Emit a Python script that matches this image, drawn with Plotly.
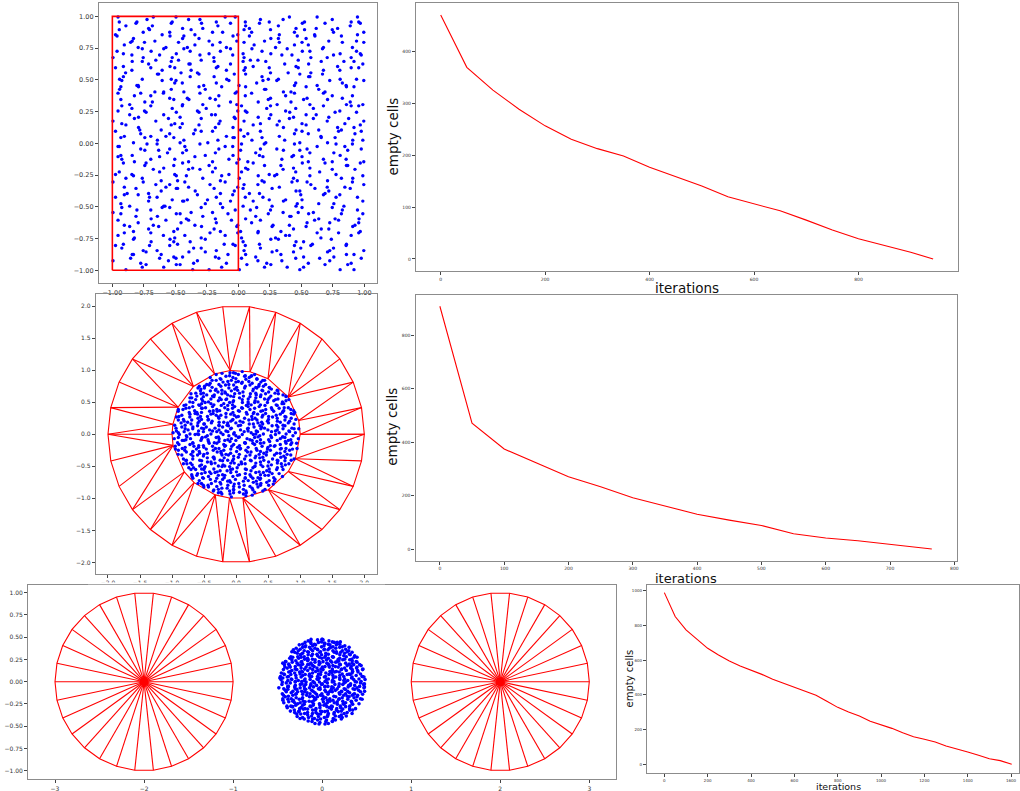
import math
import plotly.graph_objects as go

W, H = 1020, 791

# ---------------- line-chart data ----------------
iter_a = [0, 50, 100, 150, 200, 250, 300, 350, 400, 450, 500, 550, 600, 650, 700, 750, 800, 850, 900, 943]
empty_a = [471, 370, 326, 289, 257, 231, 213, 199, 177, 159, 141, 120, 106, 93, 75, 56, 39, 26, 13, 0]

iter_b = [0, 50, 100, 150, 200, 250, 300, 350, 400, 450, 500, 550, 600, 650, 700, 765]
empty_b = [908, 471, 374, 322, 270, 233, 192, 161, 130, 108, 88, 57, 41, 31, 17, 0]

iter_c = [0, 50, 100, 150, 200, 250, 300, 350, 400, 450, 500, 550, 600, 650, 700, 750, 800,
          850, 900, 950, 1000, 1050, 1100, 1150, 1200, 1250, 1300, 1350, 1400, 1450, 1500, 1550, 1603]
empty_c = [989, 851, 774, 720, 668, 630, 595, 566, 543, 518, 490, 467, 444, 421, 398, 363, 328,
           301, 278, 248, 228, 207, 182, 159, 144, 128, 105, 90, 71, 52, 32, 21, 0]

# ---------------- geometry of the meshes ----------------
rect_x = [-1, 0, 0, -1, -1]
rect_y = [-1, -1, 1, 1, -1]
ring_vertices = 30
annulus_outer_r = 2.0
annulus_inner_r = 1.0
# angles (degrees) of the inner-boundary nodes of the annulus mesh
annulus_inner_angles = [0, 12.4, 35.5, 60.2, 77.5, 95.3, 109.7, 131.8, 155, 171, 180, 190,
                        216, 229, 251, 264, 276.1, 300.2, 324.5, 337.6]
disk_centers = [-2.0, 2.0]
disk_radius = 1.0
cloud3_radius = 1.0
cloud5_radius = 0.5

# ---------------- point clouds ----------------
# each row is one horizontal band (top to bottom); '.' = empty, digit = a dot
# (the digit gives its position inside the cell, 1..9 in a 3x3 layout)
cloud_square = [
    "37.9.52..81.46..83.2.7.59..41.8.2.6..937",
    ".6.2.84..19..37.5.2.68.1..4.93..72.8.5.1",
    "81..63.9.4..27.6.5.93.4..18.6.2.7.34..96",
    "2.94..8.3.61.5.7..38.2.96.4..153..7.1.8.",
    ".63.71..8.29.4.6.17.3.5..92.6.14.8..2.73",
    "58..26.3.9.14..76.2.83.59..2.6.4.1.9..57",
    "4..16.92.58..37.4..169.7..3.28.5..41.6.2",
    ".83.25..91.64..38.5.2.7.1..49.6.3..82.15",
    "2.74..16.39.58..2.4.61..37.9.2.8.5..43.1",
    "95..8.31.7..42.6.9.13..58.7..264.1.9..83",
    ".2.97..3.614..8.5.2.7.63..1.94..8.2.57.3",
    "61.3..89.4.7.25..1.83..64.9.7.2.58..3.16",
    "3..52.4.17.9.3.86..2.41..7.53.9..26.8.4.",
    ".18.6.4..293..7.1.58..6.29..4.17.3..95.8",
    "92.4.71..5.1.86.3..927..51.8.4.6.2..73.1",
    "..59.1.6.38..2.54..7.19.6..38.5.4.71..2.",
    "48.2..6.39.7..1.94.26..83.5.1.73..4.92.6",
    ".3.67..8.15.92..4.6.7.1..36.9.2.8..57.41",
    "29..5.7.84..6.13..7.95.2..8.6.14.7.3..52",
    ".1.73.6..284..9.5.31.6.27..4.8..39.1.6.5",
    "64..82.1.7.5.3..96.42..81.7.3.9.5..26.18",
    ".79.3..15.62..8.4.9.1.57..3.82.4..69.1.3",
    "35.8..42.6..71.9..5.48.3..6.2.17.59..4.9",
    ".2..61.9.53.8..47..29.16..5.83.7.2..64.1",
    "84.7..25.9..13.6..8.52..9.71.4..6.38..2.",
    ".6.15..8.372..4.91.6..38.2..57.1.9..46.2",
    "19..3.6.84.27..5.3.96..41.8.2.35..7.9.16",
    "..72.8.5.31.6..39..428.7.1..65.3.84..2.9",
    "53..16.4.8.9.2.75..1.4.69..8.37..2.51.6.",
    ".48..2.97.31..5.6.2.8.1..73.94..5.6.8..2",
    "72.6..43.1..8.19.2.5.63..4.7.819..3.5.6.",
    ".1.5.96..328..4.7.1.9.5.2..64.3.8..71.92",
    "39..4.8.2.6.17..5.39..42.8..7.6.1.53..84",
    "..27.5.1.84..3.69..27.9..18.5.2.6.4..3.7",
    "63.8..1.49.5..72.6.38..1.9.54...27.3.6.1",
    ".8.1.6..357.4.2..89.5..73.1.6.48..2.9..3",
    "25..93.7.1..6.4.8..291.5..7.36.2..84.1.9",
    "..64.1.5.893..2.7.4.6.8..15.2.7..39.6.4.",
    "4.3.8..26.1.95..3.7.2..48.6..1.73.5..9.2",
    ".9..51.6.32.8..7.4.9.1.63..5.84..2.9.17.",
]

cloud_disk_large = [
    "3.71.9..46.2.85..3.917..4.62.8.5.9..31.72.6.",
    "..58.2.7.194..6.3..8.25.9..74.1.8.36..5.94.2",
    "6.2..93.5.7.14..8.2.69..3.51.7..4.9.2.86.3.1",
    ".94.7..1.83..56.2.9.4.8..17.3.65..2.94.1..7.",
    "28..5.36.1.9.4..72.8.3.61..5.92.7..48.3.6.15",
    ".1.93..7.46.28..5.1.39..6.2.85.4.7..1.6.93.2",
    "75.2.8..36.1..94.7.2.58.3..6.19..24.7.5.8..3",
    "..6.41.9.28.3..5.67.1.9.4..28.3.6..71.9.4.52",
    "41.7..2.83.6.95..1.472..8.3.6.5.19..2.47.8.6",
    ".8.3.65..92..71.4.8.3.6..92.5.18.4..7.3.9.21",
    "9.24..7.1.5.8..63.2.94..1.7.58..3.62.9.41..7",
    "..5.8.3.96.1.47..5.28..3.69.1.7.2..8.54.6.3.",
    "37..19.4.2.8.6..3.71.5.9.24..6.3..7.1.89..4.",
    ".6.52..8.31..9.47.6.2.83..5.1.96..4.2.7.58.1",
    "8.1..6.95.4.3.72..8.6..1.5.94.2.7.3..61.9.4.",
    "..74.3..28.9.16.5..3.48..2.7.16.9..53.8..2.7",
    "52.9..1.6.7.8..34.2.9.1.6..85.3..72.4..16.83",
    ".3.6.72..4..15.9.8.62..47.1.3.8.5..69.2.4..1",
    "9..18.5.3.64.2..7.91.3.8..56.2.4.1.9..73.6.5",
    "17.4..6.29.5..83.4.17.2..9.6.358..1.4.2.9..6",
    ".8..25.1.73.69..4.8.1..5.37.9.2.6..84.1.73.2",
    "46.3.9..8.2..7.15.3.94..2.6.81.7.3..5.9.1.48",
    "..2.67.3.1.84..9.2.5.6.71..3.84..6.2.97..5.3",
    "53..8.4..61.7.36..9.4.2..58.1.7.93..6.2.8..4",
    ".9.21..7.3..5.8.4.16.3..97.2.4.8.5..1.63.7.9",
    "7.4..63.9.8.2..1.57.6.9.3..24.1..8.76.3.5.2.",
    ".1.85..2.46..39.7.1.2.58..4.9.3.6..1.8.7..96",
    "36..4.9.17.2.6..85.3.9.1.4..6.7.25..3.8.41.5",
    "..7.3.81.59.4..26.8.4..7.3.1.9.52..6.4.8..3.",
    "84.1..6.2.5..97.3..16.8..42.5.9.1.3..74.2.6.",
    ".2.69..4.8..1.5.83.7.4..6.9.2.18..5.7.3.96.4",
    "59..2.7..3.6.48..1.927.5..3.8.4.6..91.2..7.1",
    ".7.3.16..84..2.9.57...63.1..8.5.9.4..26.1..8",
    "2.8..5.4.961..7.3..28.4.9..51.3..7.6.2.9.4.3",
    "6..47.2.1.3.9..85.6.1.7..2.4.9..58.3..1.7.9.",
    ".3.9..8.56.1.42..7.3..9.6.8.2.71..4.5..38.2.",
    "47..1.6.2.8.5..3.91.6.2..7.4.8.3.19..6.5..4.",
    ".9.5.83..72.6..1.4.8.5..39.2.61..7.4.8.29.6.",
    "1.6..2.49.7..83.5..14.9.2..63.8.5..1.7.4.2.5",
    "..38.9..1.5.4..72.6.91..5.8.3.4.6.2..9.17..3",
    "85..6.1.7.3.2..9.46..7.18..5.2.9..3.6.84.1.6",
    ".4.7..3.9.2..61.8..53.9..4.27.6..5.81.3.2.9.",
    "6.1.95..2.8.7..3.4.6.1..52.8.9..4.7..63.5.1.",
    ".3..8.4.6.1.59..2.7.4..8.1.3.62.7..9.5.1.8.4",
]

cloud_disk_small = [
    "48.29.735.61.8.4.972.35.81.64.9.27.5",
    ".73.518.962.47.3.81.59.2.74.36.18.4.",
    "92.6.4.83.71.59.2.648.3.17.9.52.64.3",
    "5.81.37.2.94.6.1.85.3.72.96.4.81.5.7",
    ".64.9.25.71.38.47.9.62.5.1.83.4.97.2",
    "37.2.81.4.59.6.3.72.1.48.6.95.3.2.68",
    ".91.5.36.84.2.79.1.58.36.2.4.71.59.3",
    "26.4.7.93.8.15.6.2.4.97.3.58.16.2.47",
    ".83.6.1.529.4.7.36.15.2.84.7.93.16.8",
    "5.97.2.4.8.61.3.8.72.4.95.1.36.8.2.5",
    "1.4.83.6.27.95.1.4.683.2.7.59.4.1.97",
    ".72.5.9.14.3.68.2.9.5.47.1.6.82.35.4",
    "8.36.1.7.592.4.6.81.3.7.29.4.5.61.8.",
    "4.1.95.2.8.6.3.74.1.96.8.2.5.37.4.19",
    ".58.2.6.371.9.4.82.5.6.13.7.9.4.28.6",
    "9.2.71.4.63.58.9.1.72.4.6.83.1.5.97.",
    "6.43.8.5.2.7.1.96.3.8.52.4.7.61.9.3.",
    ".1.6.29.485.3.7.1.92.68.3.5.4.27.8.1",
    "73.5.4.1.9.2.86.3.7.4.1.9.62.8.3.5.7",
    ".2.97.6.3.81.4.5.29.7.3.8.1.546.9.2.",
    "5.8.1.37.49.6.2.84.1.35.7.9.2.8.4.61",
    "4.63.9.2.8.1.57.3.6.92.4.8.17.3.5.9.",
    ".9.2.5.81.36.7.4.9.25.1.63.8.4.7.2.8",
    "8.4.76.1.3.5.9.2.47.1.8.3.59.62.4.1.",
    "2.71.8.5.94.3.6.1.85.7.29.4.3.6.18.5",
    ".6.3.94.2.7.8.51.3.69.4.2.7.18.5.3.7",
    "9.5.2.6.74.1.38.9.2.4.6.1.85.37.9.2.",
    "3.18.7.4.62.9.4.6.51.8.3.72.9.1.6.4.",
    ".4.6.31.95.7.2.8.4.36.19.5.2.7.8.3.1",
    "7.2.9.5.8.13.6.4.7.9.2.5.81.6.49.3.2",
    ".83.1.6.2.9.4.75.3.18.6.2.9.4.7.15.6",
    "5.9.4.72.1.6.8.3.1.94.27.5.8.3.6.9.1",
    "2.6.81.3.74.5.9.2.6.1.8.3.49.52.7.3.",
    ".1.5.9.4.82.73.6.1.5.9.4.2.6.38.1.5.",
    "6.4.2.8.1.95.3.7.4.28.1.6.9.57.3.6.2",
    ".7.3.5.9.61.4.8.2.37.5.9.1.4.26.8.4.",
]


def grid_points(rows, x0, x1, y0, y1, cx=None, cy=None, rmax=None):
    nrows = len(rows)
    ncols = max(len(r) for r in rows)
    px = (x1 - x0) / ncols
    py = (y1 - y0) / nrows
    xs, ys = [], []
    for i, row in enumerate(rows):
        shift = 0.5 if i % 2 else 0.0
        for j, ch in enumerate(row):
            if not ch.isdigit() or ch == "0":
                continue
            d = int(ch) - 1
            x = x0 + (j + 0.5 + shift * 0.5 + (d % 3 - 1) * 0.4) * px
            y = y1 - (i + 0.5 + (d // 3 - 1) * 0.4) * py
            if x < x0 or x > x1:
                continue
            if rmax is not None and math.hypot(x - cx, y - cy) > rmax:
                continue
            xs.append(x)
            ys.append(y)
    return xs, ys


def pol(cx, cy, r, ang):
    return (cx + r * math.cos(math.radians(ang)), cy + r * math.sin(math.radians(ang)))


def add_seg(xs, ys, a, b):
    xs.extend([a[0], b[0], None])
    ys.extend([a[1], b[1], None])


def add_poly(xs, ys, pts):
    for p in pts + [pts[0]]:
        xs.append(p[0])
        ys.append(p[1])
    xs.append(None)
    ys.append(None)


RED = "#ff0000"
BLUE = "#0000ff"
fig = go.Figure()

# ---- panel 1: square cloud + red rectangle
sx, sy = grid_points(cloud_square, -1, 1, -1, 1)
fig.add_trace(go.Scatter(x=sx, y=sy, mode="markers", marker=dict(color=BLUE, size=3.4),
                         xaxis="x", yaxis="y", hoverinfo="skip"))
fig.add_trace(go.Scatter(x=rect_x, y=rect_y, mode="lines", line=dict(color=RED, width=1.6),
                         xaxis="x", yaxis="y", hoverinfo="skip"))

# ---- panel 2
fig.add_trace(go.Scatter(x=iter_a, y=empty_a, mode="lines", line=dict(color=RED, width=1.1),
                         xaxis="x2", yaxis="y2"))

# ---- panel 3: annulus strip mesh + disk cloud
outer_ang = [360.0 * k / ring_vertices for k in range(ring_vertices)]
inner_ang = sorted(annulus_inner_angles)
outer = [pol(0, 0, annulus_outer_r, a) for a in outer_ang]
inner = [pol(0, 0, annulus_inner_r, a) for a in inner_ang]
mx, my = [], []
add_poly(mx, my, outer)
add_poly(mx, my, inner)
no, ni = len(outer), len(inner)
i = j = 0
add_seg(mx, my, outer[0], inner[0])
while i < no or j < ni:
    next_o = outer_ang[i + 1] if i + 1 < no else 360.0
    next_i = inner_ang[j + 1] if j + 1 < ni else 360.0
    if j >= ni or (i < no and next_o <= next_i):
        i += 1
    else:
        j += 1
    add_seg(mx, my, outer[i % no], inner[j % ni])
fig.add_trace(go.Scatter(x=mx, y=my, mode="lines", line=dict(color=RED, width=1.1),
                         xaxis="x3", yaxis="y3", hoverinfo="skip"))
dx3, dy3 = grid_points(cloud_disk_large, -cloud3_radius, cloud3_radius, -cloud3_radius, cloud3_radius,
                       0, 0, cloud3_radius * 0.985)
fig.add_trace(go.Scatter(x=dx3, y=dy3, mode="markers", marker=dict(color=BLUE, size=3.4),
                         xaxis="x3", yaxis="y3", hoverinfo="skip"))

# ---- panel 4
fig.add_trace(go.Scatter(x=iter_b, y=empty_b, mode="lines", line=dict(color=RED, width=1.1),
                         xaxis="x4", yaxis="y4"))

# ---- panel 5: two spoked disks + small cloud
wx, wy = [], []
for c in disk_centers:
    pts = [pol(c, 0, disk_radius, a) for a in outer_ang]
    add_poly(wx, wy, pts)
    for p in pts:
        add_seg(wx, wy, (c, 0), p)
fig.add_trace(go.Scatter(x=wx, y=wy, mode="lines", line=dict(color=RED, width=1.1),
                         xaxis="x5", yaxis="y5", hoverinfo="skip"))
fig.add_trace(go.Scatter(x=disk_centers, y=[0] * len(disk_centers), mode="markers",
                         marker=dict(color=RED, size=9), xaxis="x5", yaxis="y5", hoverinfo="skip"))
dx5, dy5 = grid_points(cloud_disk_small, -cloud5_radius, cloud5_radius, -cloud5_radius, cloud5_radius,
                       0, 0, cloud5_radius * 0.985)
fig.add_trace(go.Scatter(x=dx5, y=dy5, mode="markers", marker=dict(color=BLUE, size=3.6),
                         xaxis="x5", yaxis="y5", hoverinfo="skip"))

# ---- panel 6
fig.add_trace(go.Scatter(x=iter_c, y=empty_c, mode="lines", line=dict(color=RED, width=1.1),
                         xaxis="x6", yaxis="y6"))


def px_dom(a, b):
    return [a / W, b / W]


def py_dom(top, bottom):
    return [1 - bottom / H, 1 - top / H]


def axis(domain, rng, anchor, dtick, fmt, size):
    return dict(domain=domain, range=rng, anchor=anchor, dtick=dtick, tick0=0, tickformat=fmt,
                showline=True, linecolor="#8c8c8c", linewidth=1.3, mirror=True,
                ticks="outside", ticklen=3, tickwidth=0.8, tickcolor="#444",
                showgrid=False, zeroline=False,
                tickfont=dict(family="DejaVu Sans", size=size, color="#333333"))


layout = dict(
    template="none",
    font=dict(family="DejaVu Sans", color="#333333"),
    width=W, height=H, margin=dict(l=0, r=0, t=0, b=0),
    paper_bgcolor="white", plot_bgcolor="white", showlegend=False,
    xaxis=axis(px_dom(99, 377), [-1.106, 1.10], "y", 0.25, ".2f", 6.5),
    yaxis=axis(py_dom(3, 283), [-1.10, 1.105], "x", 0.25, ".2f", 6.5),
    xaxis2=axis(px_dom(416, 958), [-47.3, 990.6], "y2", 200, "d", 4.5),
    yaxis2=axis(py_dom(3, 271), [-23.2, 494.2], "x2", 100, "d", 4.5),
    xaxis3=axis(px_dom(96, 377), [-2.187, 2.198], "y3", 0.5, ".1f", 6),
    yaxis3=axis(py_dom(294, 574), [-2.18, 2.188], "x3", 0.5, ".1f", 6),
    xaxis4=axis(px_dom(415.5, 956.5), [-37.9, 803.4], "y4", 100, "d", 4.5),
    yaxis4=axis(py_dom(294.5, 560.7), [-43.7, 952], "x4", 200, "d", 4.5),
    xaxis5=axis(px_dom(28.3, 616), [-3.3, 3.3], "y5", 1, "d", 6),
    yaxis5=axis(py_dom(584.7, 779.3), [-1.097, 1.09], "x5", 0.25, ".2f", 6),
    xaxis6=axis(px_dom(647, 1019.3), [-80, 1638], "y6", 200, "d", 4),
    yaxis6=axis(py_dom(584.7, 772.7), [-48.4, 1034.6], "x6", 200, "d", 4),
)

# the lower-left picture overlaps the bottom of the tick labels of the annulus panel
layout["shapes"] = [dict(type="rect", xref="paper", yref="paper", layer="above",
                         x0=88 / W, x1=385 / W, y0=1 - 584.2 / H, y1=1 - 582.6 / H,
                         fillcolor="white", line=dict(width=0))]


def ann(text, x, y, size, angle=0):
    return dict(text=text, x=x / W, y=1 - y / H, xref="paper", yref="paper",
                xanchor="center", yanchor="middle", showarrow=False, textangle=angle,
                font=dict(family="DejaVu Sans", size=size, color="#111111"))


layout["annotations"] = [
    ann("empty cells", 393, 136.5, 13.5, -90),
    ann("iterations", 687, 287.5, 13.5),
    ann("empty cells", 391.7, 427, 13.5, -90),
    ann("iterations", 686, 578.5, 13),
    ann("empty cells", 629, 678.5, 10, -90),
    ann("iterations", 838, 786.8, 9.5),
]

fig.update_layout(**layout)
fig.write_html("out.html")
